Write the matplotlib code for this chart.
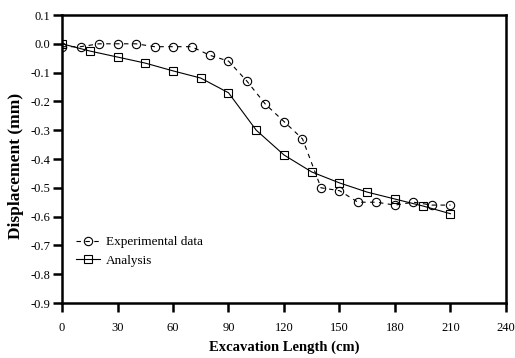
import numpy as np
import matplotlib
matplotlib.use("Agg")
import matplotlib.pyplot as plt

plt.rcParams['font.family'] = ['Liberation Serif', 'DejaVu Serif']
plt.rcParams['axes.unicode_minus'] = False

# experimental data
exp_x = [0, 10, 20, 30, 40, 50, 60, 70, 80, 90, 100, 110, 120, 130,
         140, 150, 160, 170, 180, 190, 200, 210]
exp_y = [-0.01, -0.01, 0.0, 0.0, 0.0, -0.01, -0.01, -0.01, -0.04, -0.06,
         -0.13, -0.21, -0.27, -0.33, -0.50, -0.51, -0.55, -0.55, -0.56,
         -0.55, -0.56, -0.56]

# analysis
ana_x = [0, 15, 30, 45, 60, 75, 90, 105, 120, 135, 150, 165, 180, 195, 210]
ana_y = [0.0, -0.025, -0.046, -0.067, -0.094, -0.119, -0.17, -0.30, -0.386,
         -0.445, -0.483, -0.515, -0.539, -0.563, -0.59]

xticks = [0, 30, 60, 90, 120, 150, 180, 210, 240]
yticks = [0.1, 0.0, -0.1, -0.2, -0.3, -0.4, -0.5, -0.6, -0.7, -0.8, -0.9]

fig = plt.figure(figsize=(5.15, 3.58), dpi=100)
ax = fig.add_axes([0.1204, 0.1536, 0.8621, 0.8045])

ax.plot(exp_x, exp_y, color='black', lw=0.8, linestyle=(0, (4, 4)),
        marker='o', ms=6, mfc='none', mec='black', mew=0.8,
        label='Experimental data')
ax.plot(ana_x, ana_y, color='black', lw=0.8, marker='s', ms=5.5,
        mfc='none', mec='black', mew=0.8, label='Analysis')

ax.set_xlim(0, 240)
ax.set_ylim(-0.9, 0.1)
ax.set_xticks(xticks)
ax.set_yticks(yticks)
ax.set_yticklabels(['%.1f' % v for v in yticks])

for s in ax.spines.values():
    s.set_linewidth(1.8)
ax.tick_params(direction='out', length=6.5, width=1.8, labelsize=9)
ax.tick_params(axis='x', pad=7)
ax.tick_params(axis='y', pad=2)

ax.set_xlabel('Excavation Length (cm)', fontsize=10.5, fontweight='bold', labelpad=5)
ax.set_ylabel('Displacement (mm)', fontsize=12.5, fontweight='bold')
ax.yaxis.set_label_coords(-0.086, 0.475)

ax.legend(loc='upper left', bbox_to_anchor=(0.011, 0.265), frameon=False,
          fontsize=9.5, handlelength=1.8, handletextpad=0.45, labelspacing=0.5,
          borderaxespad=0.3)

fig.savefig('out.png', dpi=100)
